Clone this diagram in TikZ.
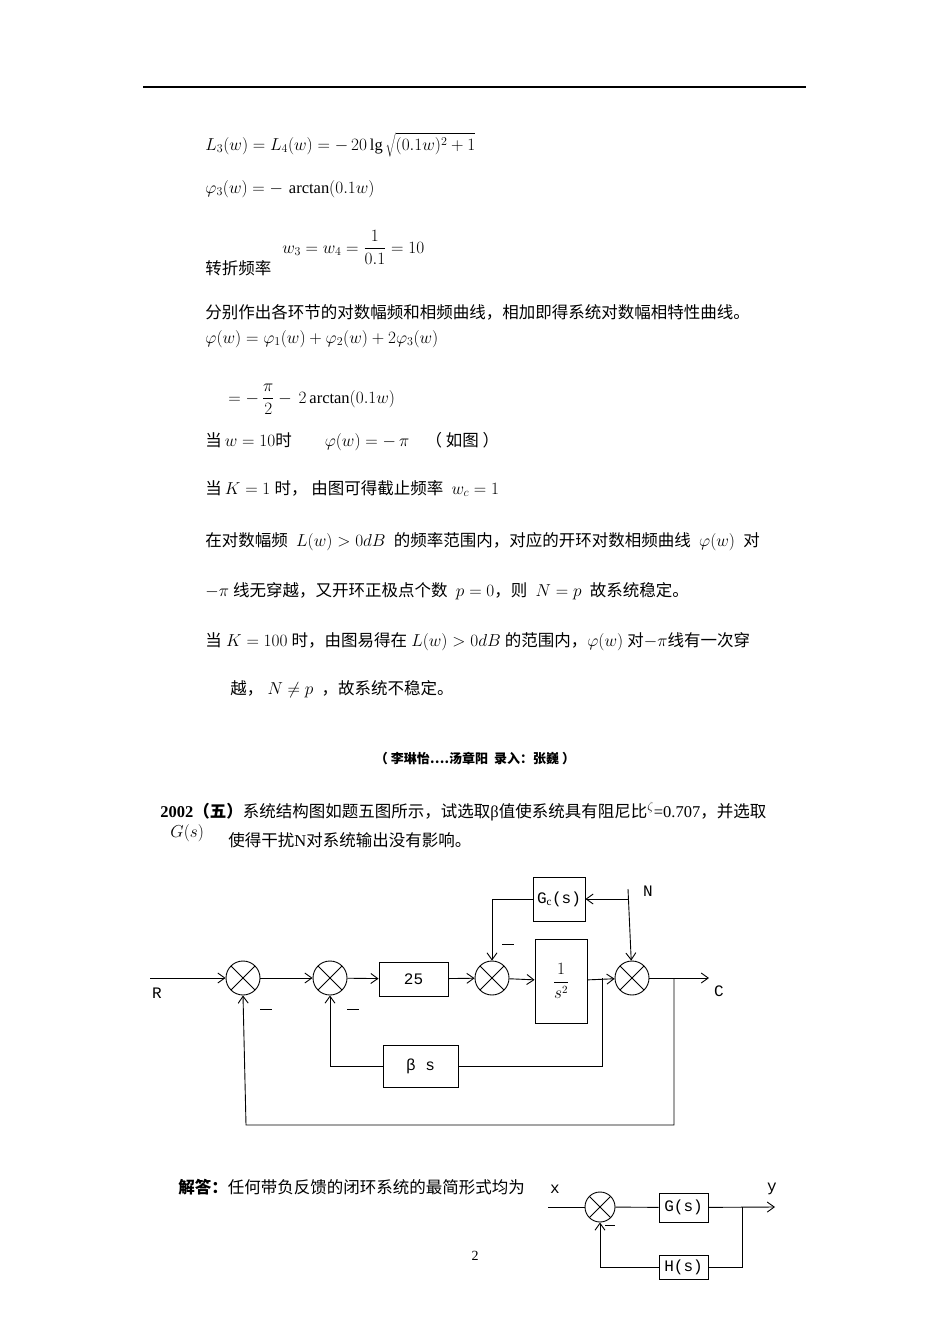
\documentclass[tikz,border=0pt]{standalone}
\usepackage{fontspec}
\setmainfont{Liberation Serif}
\newfontfamily\cjk{Noto Sans CJK SC}
\newfontfamily\mono{Liberation Mono}
\usetikzlibrary{arrows.meta}
\begin{document}
\begin{tikzpicture}[x=1pt,y=-1pt,
  txt/.style={anchor=base west,inner sep=0,font=\fontsize{16.5}{19}\selectfont},
  sumj/.style={draw,circle,minimum size=34pt,inner sep=0,path picture={\draw (path picture bounding box.north west)--(path picture bounding box.south east) (path picture bounding box.north east)--(path picture bounding box.south west);}},
  sums/.style={sumj,minimum size=30pt},
  blk/.style={draw,inner sep=0,font=\mono\fontsize{16}{18}\selectfont},
  lbl/.style={inner sep=0,font=\mono\fontsize{16}{18}\selectfont},
  ar/.style={-{Straight Barb[length=7pt,width=10pt]}},
  line width=0.9pt]
\useasboundingbox (0,0) rectangle (950,1344);
\fill[white] (0,0) rectangle (950,1344);
\draw[line width=1.2pt] (143,87) -- (806,87);
% text
\node[txt] (t1) at (205,150) {$L_3(w)=L_4(w)=-\,20\lg\sqrt{(0.1w)^2+1}$};
\node[txt] (t2) at (205,193) {$\varphi_3(w)=-\,\arctan(0.1w)$};
\node[txt] (t3) at (282,253) {$\displaystyle w_3=w_4=\frac{1}{0.1}=10$};
\node[txt] (t4) at (205,274) {\cjk 转折频率};
\node[txt] (t5) at (205,318) {\cjk 分别作出各环节的对数幅频和相频曲线，相加即得系统对数幅相特性曲线。};
\node[txt] (t6) at (205,343) {$\varphi(w)=\varphi_1(w)+\varphi_2(w)+2\varphi_3(w)$};
\node[txt] (t7) at (228,403) {$\displaystyle =-\,\frac{\pi}{2}-\,2\arctan(0.1w)$};
\node[txt] (t8) at (205,446) {{\cjk 当}$\,w=10${\cjk 时}\qquad $\varphi(w)=-\,\pi$\quad {\cjk （ 如图 ）}};
\node[txt] (t9) at (205,494) {{\cjk 当}$\,K=1$\ {\cjk 时，\ 由图可得截止频率}\ \ $w_c=1$};
\node[txt] (t10) at (205,546) {{\cjk 在对数幅频}\ \ $L(w)>0dB$\ \ {\cjk 的频率范围内，对应的开环对数相频曲线}\ \ $\varphi(w)$\ \ {\cjk 对}};
\node[txt] (t11) at (205,596) {$-\pi$\ {\cjk 线无穿越，又开环正极点个数}\ \ $p=0${\cjk ，则}\ \ $N=p$\ \ {\cjk 故系统稳定。}};
\node[txt] (t12) at (205,646) {{\cjk 当}\ $K=100$\ {\cjk 时，由图易得在}\ $L(w)>0dB$\ {\cjk 的范围内，}$\varphi(w)$\ {\cjk 对}$-\pi${\cjk 线有一次穿}};
\node[txt] (t13) at (230,694) {{\cjk 越，}\ $N\neq p$\ \ {\cjk ，故系统不稳定。}};
\node[inner sep=0,font=\fontsize{13}{15}\selectfont\bfseries\cjk] (t14) at (475,759) {（ 李琳怡….汤章阳\ \ 录入：张巍 ）};
\node[txt] (t15) at (160,817) {\textbf{2002{\cjk （五）}}{\cjk 系统结构图如题五图所示，试选取}β{\cjk 值使系统具有阻尼比}$^{\zeta}$=0.707{\cjk ，并选取}};
\node[txt] (t16) at (170,837) {$G(s)$};
\node[txt] (t17) at (228,846) {{\cjk 使得干扰}N{\cjk 对系统输出没有影响。}};
\node[txt] (t18) at (178,1193) {{\cjk\bfseries 解答：}{\cjk 任何带负反馈的闭环系统的最简形式均为}};
\node[inner sep=0,font=\fontsize{14}{16}\selectfont] (pg) at (475,1256) {2};
% main block diagram
\node[sumj] (s1) at (243,978) {};
\node[sumj] (s2) at (330,978) {};
\node[blk,minimum width=69pt,minimum height=34pt] (b25) at (413.5,979) {25};
\node[sumj] (s3) at (492,978) {};
\node[blk,minimum width=52pt,minimum height=84pt] (bs) at (561,981) {$\displaystyle\frac{1}{s^2}$};
\node[sumj] (s4) at (632,978) {};
\node[blk,minimum width=52pt,minimum height=44pt] (gc) at (559,899) {G$_\mathrm{c}$(s)};
\node[blk,minimum width=75pt,minimum height=42pt] (bb) at (420.5,1066) {β s};
\node[lbl] (R) at (157,993) {R};
\node[lbl] (C) at (719,991) {C};
\node[lbl] (N) at (648,891) {N};
\coordinate (rin) at (150,978);
\coordinate (cout) at (709,978);
\coordinate (ntop) at (628,889);
\coordinate (nb) at (628,899);
\coordinate (ob) at (674,978);
\coordinate (ib) at (602,978);
\draw[ar] (rin) -- (s1);
\draw[ar] (s1) -- (s2);
\draw[ar] (s2) -- (b25);
\draw[ar] (b25) -- (s3);
\draw[ar] (s3) -- (bs);
\draw[ar] (bs) -- (s4);
\draw[ar] (s4) -- (cout);
\draw[ar] (ntop) -- (s4);
\draw[ar] (nb) -- (gc);
\draw[ar] (gc.west) -| (s3.north);
\draw[ar] (ib) |- (bb.east) (bb.west) -| (s2.south);
\draw[ar] (ob) |- (246,1125) -- (s1.south);
\draw (260,1009) -- (272,1009);
\draw (347,1009) -- (359,1009);
\draw (502,944) -- (514,944);
% small diagram
\node[sums] (ss) at (600,1207) {};
\node[blk,minimum width=49pt,minimum height=29pt] (g) at (683.5,1207.5) {G(s)};
\node[blk,minimum width=49pt,minimum height=24pt] (h) at (683.5,1267) {H(s)};
\node[lbl] (x) at (555,1189) {x};
\node[lbl] (y) at (772,1189) {y};
\coordinate (xin) at (548,1207);
\coordinate (yout) at (775,1207);
\coordinate (br) at (742,1207);
\draw (xin) -- (ss);
\draw (ss) -- (g);
\draw[ar] (g) -- (yout);
\draw[ar] (br) |- (h.east) (h.west) -| (ss.south);
\draw (605,1225) -- (615,1225);
\end{tikzpicture}
\end{document}
